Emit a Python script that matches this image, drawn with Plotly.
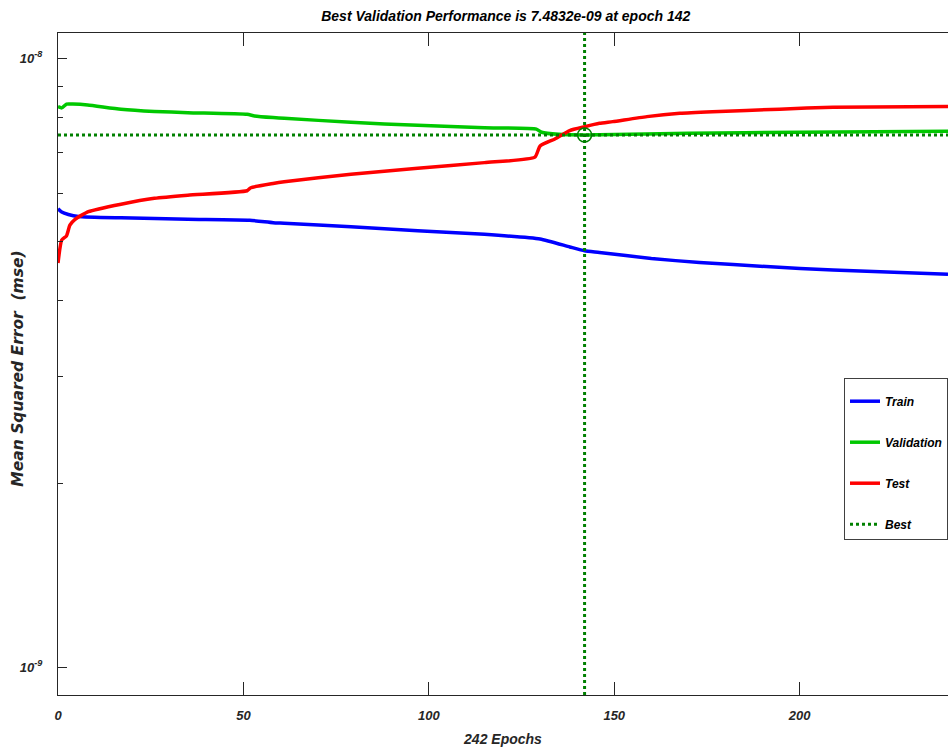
import plotly.graph_objects as go

# ---- data ----
train_epochs = [0, 1, 2.8, 5.5, 17, 35, 51.7, 58, 61, 79, 97, 115, 130, 138, 142, 146, 160, 173, 191, 209, 240]
train_mse = [5.66e-9, 5.59e-9, 5.54e-9, 5.50e-9, 5.47e-9, 5.44e-9, 5.42e-9, 5.37e-9, 5.36e-9, 5.29e-9,
             5.21e-9, 5.14e-9, 5.05e-9, 4.90e-9, 4.83e-9, 4.80e-9, 4.69e-9, 4.62e-9, 4.55e-9, 4.49e-9, 4.42e-9]

val_epochs = [0, 1, 2.3, 4, 8, 17, 26, 35, 51, 53, 58, 61, 79, 97, 115, 129, 130.4, 135, 142, 146, 170, 200, 240]
val_mse = [8.33e-9, 8.29e-9, 8.41e-9, 8.41e-9, 8.38e-9, 8.25e-9, 8.18e-9, 8.14e-9, 8.09e-9, 8.04e-9,
           7.99e-9, 7.97e-9, 7.85e-9, 7.76e-9, 7.69e-9, 7.65e-9, 7.56e-9, 7.50e-9, 7.4832e-9, 7.49e-9,
           7.53e-9, 7.56e-9, 7.59e-9]

test_epochs = [0, 1, 2.3, 3.2, 4.6, 8.2, 17, 26, 35, 51, 52, 58, 61, 79, 97, 115, 128.6, 130, 134, 138,
               142, 146, 149.6, 158.8, 167.7, 176.5, 194.6, 209, 240]
test_mse = [4.61e-9, 5.03e-9, 5.11e-9, 5.32e-9, 5.44e-9, 5.60e-9, 5.76e-9, 5.89e-9, 5.96e-9, 6.06e-9,
            6.13e-9, 6.23e-9, 6.27e-9, 6.45e-9, 6.60e-9, 6.74e-9, 6.88e-9, 7.18e-9, 7.37e-9, 7.61e-9,
            7.72e-9, 7.82e-9, 7.87e-9, 8.02e-9, 8.12e-9, 8.17e-9, 8.25e-9, 8.31e-9, 8.33e-9]

best_epoch = 142
best_perf = 7.4832e-9
n_epochs = 242

x_range = [0, 240]
y_log_range = [-9.0455, -7.9585]
x_ticks = [0, 50, 100, 150, 200]
y_major = [1e-9, 1e-8]
y_major_text = ["10<sup>-9</sup>", "10<sup>-8</sup>"]
y_minor = [2e-9, 3e-9, 4e-9, 5e-9, 6e-9, 7e-9, 8e-9, 9e-9]
y_title = "Mean Squared Error  (mse)"

# ---- styles ----
C_TRAIN = "#0000FF"
C_VAL = "#00C800"
C_TEST = "#FF0000"
C_BEST = "#008000"
AX = "#262626"
FONT = "Liberation Sans"
SPL = dict(shape="spline", smoothing=0.5)

fig = go.Figure()
fig.add_trace(go.Scatter(x=train_epochs, y=train_mse, mode="lines", name="Train",
                         line=dict(color=C_TRAIN, width=3.5, **SPL), legendgroup="a"))
fig.add_trace(go.Scatter(x=val_epochs, y=val_mse, mode="lines", name="Validation",
                         line=dict(color=C_VAL, width=3.5, **SPL), legendgroup="b"))
fig.add_trace(go.Scatter(x=test_epochs, y=test_mse, mode="lines", name="Test",
                         line=dict(color=C_TEST, width=3.5, **SPL), legendgroup="c"))
y_lo, y_hi = 10 ** y_log_range[0], 10 ** y_log_range[1]
fig.add_trace(go.Scatter(x=[x_range[0], x_range[1], None, best_epoch, best_epoch],
                         y=[best_perf, best_perf, None, y_lo, y_hi],
                         mode="lines", name="Best",
                         line=dict(color=C_BEST, width=3, dash="dot"), legendgroup="d"))
fig.add_trace(go.Scatter(x=[best_epoch], y=[best_perf], mode="markers", showlegend=False,
                         marker=dict(symbol="circle-open", size=14, color=C_BEST,
                                     line=dict(color=C_BEST, width=1.5))))

fig.update_layout(
    width=948, height=753, autosize=False,
    margin=dict(l=58, r=0, t=33, b=58),
    paper_bgcolor="white", plot_bgcolor="white",
    font=dict(family=FONT, color=AX, size=13),
    title=dict(text="<b><i>Best Validation Performance is %.4e at epoch %d</i></b>" % (best_perf, best_epoch),
               x=0.5335, xanchor="center", y=0.979, yanchor="middle",
               font=dict(family=FONT, size=14, color="black")),
    showlegend=True,
    legend=dict(x=1.0, y=0.479, xanchor="right", yanchor="top",
                bordercolor="#404040", borderwidth=1, bgcolor="white",
                title=dict(text=" ", font=dict(size=6)),
                font=dict(family=FONT, size=12, color="black", style="italic", weight="bold"),
                tracegroupgap=22, itemwidth=30),
    annotations=[dict(text="<b><i>%s</i></b>" % y_title, textangle=-90,
                      xref="paper", yref="paper", x=-0.0449, y=0.493,
                      xanchor="center", yanchor="middle", showarrow=False,
                      font=dict(family="DejaVu Sans", size=15.5, color=AX))],
)

fig.update_xaxes(
    range=x_range, tickvals=x_ticks,
    ticks="inside", ticklen=13, tickwidth=1, tickcolor=AX,
    showline=True, linecolor=AX, linewidth=1, mirror="ticks",
    showgrid=False, zeroline=False, ticklabelstandoff=8,
    tickfont=dict(family=FONT, size=13, color=AX, style="italic", weight="bold"),
    title=dict(text="<b><i>%d Epochs</i></b>" % n_epochs, standoff=12,
               font=dict(family=FONT, size=14, color=AX)),
)
fig.update_yaxes(
    type="log", range=y_log_range,
    tickvals=y_major, ticktext=y_major_text,
    ticks="inside", ticklen=9, tickwidth=1, tickcolor=AX,
    minor=dict(tickvals=y_minor, ticks="inside", ticklen=5, tickcolor=AX, tickwidth=1),
    showline=True, linecolor=AX, linewidth=1, mirror=False,
    showgrid=False, zeroline=False, ticklabelstandoff=12, automargin=False,
    tickfont=dict(family=FONT, size=13, color=AX, style="italic", weight="bold"),
)

fig.write_html("out.html",
               config={"displayModeBar": False, "responsive": False},
               post_script="document.body.style.margin='0';document.body.style.overflow='hidden';")
